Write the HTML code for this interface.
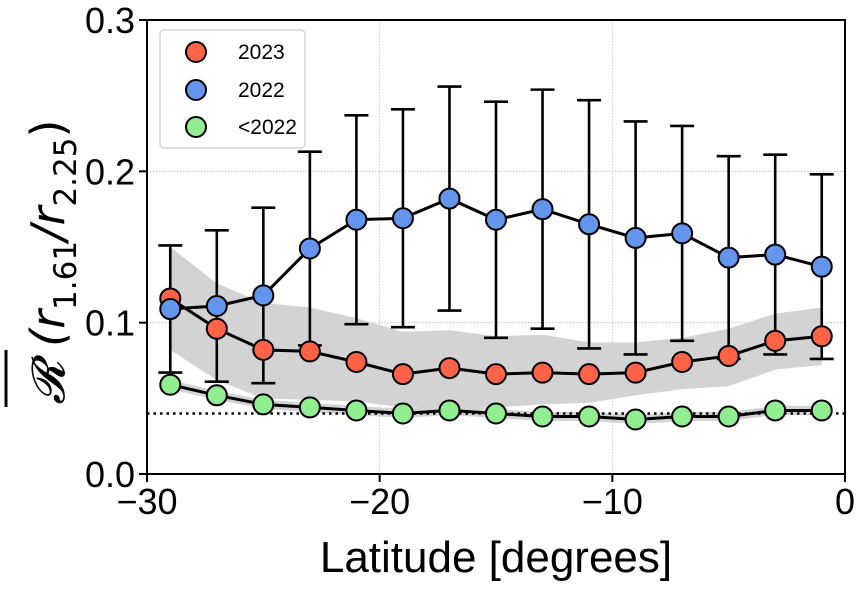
<!DOCTYPE html>
<html><head><meta charset="utf-8"><style>
body{margin:0;background:#fff}
svg{display:block;font-family:"Liberation Sans",sans-serif}
</style></head><body>
<svg id="c" width="862" height="589"></svg>
<script>
const lats=[-29,-27,-25,-23,-21,-19,-17,-15,-13,-11,-9,-7,-5,-3,-1];
const blueVals=[0.109,0.111,0.118,0.149,0.168,0.169,0.182,0.168,0.175,0.165,0.156,0.159,0.143,0.145,0.137];
const blueErr=[0.042,0.050,0.058,0.064,0.069,0.072,0.074,0.078,0.079,0.082,0.077,0.071,0.067,0.066,0.061];
const redVals=[0.116,0.096,0.082,0.081,0.074,0.066,0.070,0.066,0.067,0.066,0.067,0.074,0.078,0.088,0.091];
const redBandHi=[0.150,0.126,0.113,0.110,0.103,0.094,0.095,0.091,0.092,0.087,0.087,0.090,0.096,0.106,0.110];
const redBandLo=[0.082,0.062,0.050,0.049,0.048,0.044,0.043,0.044,0.046,0.047,0.052,0.056,0.058,0.069,0.072];
const greenVals=[0.059,0.052,0.046,0.044,0.042,0.040,0.042,0.040,0.038,0.038,0.036,0.038,0.038,0.042,0.042];
const greenBand=0.003;
const refLine=0.040;
const xTicks=[-30,-20,-10,0];
const xTickLabels=["\u221230","\u221220","\u221210","0"];
const yTicks=[0,0.1,0.2,0.3];
const yTickLabels=["0.0","0.1","0.2","0.3"];

const X0=147,X1=845,Y0=474,Y1=20;
const xs=v=>X0+(v+30)/30*(X1-X0);
const ys=v=>Y0-v/0.3*(Y0-Y1);
const svg=document.getElementById('c');
const NS='http://www.w3.org/2000/svg';
function mk(t,a,p){const e=document.createElementNS(NS,t);for(const k in a)e.setAttribute(k,a[k]);(p||svg).appendChild(e);return e;}

xTicks.forEach(t=>{if(t>-30&&t<0){const g=mk('line',{x1:xs(t),x2:xs(t),y1:Y1,y2:Y0,stroke:'#bbb','stroke-width':0.8,'stroke-dasharray':'1.5,1.5'});}});
yTicks.forEach(t=>{if(t>0&&t<0.3){const g=mk('line',{x1:X0,x2:X1,y1:ys(t),y2:ys(t),stroke:'#bbb','stroke-width':0.8,'stroke-dasharray':'1.5,1.5'});}});

function band(hi,lo,name){let d='';lats.forEach((l,i)=>{d+=(i?'L':'M')+xs(l)+','+ys(hi[i]);});for(let i=lats.length-1;i>=0;i--)d+='L'+xs(lats[i])+','+ys(lo[i]);const p=mk('path',{d:d+'Z',fill:'#d3d3d3'});}
band(redBandHi,redBandLo,'red-uncertainty-band');
band(greenVals.map(v=>v+greenBand),greenVals.map(v=>v-greenBand),'green-uncertainty-band');

const rl=mk('line',{x1:X0,x2:X1,y1:ys(refLine),y2:ys(refLine),stroke:'#000','stroke-width':2.5,'stroke-dasharray':'2.5,4'});


lats.forEach((l,i)=>{const x=xs(l),a=ys(blueVals[i]+blueErr[i]),b=ys(blueVals[i]-blueErr[i]);
const g=mk('g',{stroke:'#000','stroke-width':2.6});

mk('line',{x1:x,x2:x,y1:a,y2:b},g);mk('line',{x1:x-12,x2:x+12,y1:a,y2:a},g);mk('line',{x1:x-12,x2:x+12,y1:b,y2:b},g);});

function series(vals,color,name){const d=lats.map((l,i)=>(i?'L':'M')+xs(l)+','+ys(vals[i])).join('');
const p=mk('path',{d:d,fill:'none',stroke:'#000','stroke-width':3});
lats.forEach((l,i)=>{const c=mk('circle',{cx:xs(l),cy:ys(vals[i]),r:10,fill:color,stroke:'#000','stroke-width':2});});}
series(greenVals,'#90ee90','series-pre2022');
series(redVals,'#ff6347','series-2023');
series(blueVals,'#6495ed','series-2022');

const ax=mk('rect',{x:X0,y:Y1,width:X1-X0,height:Y0-Y1,fill:'none',stroke:'#000','stroke-width':2});

xTicks.forEach((t,i)=>{mk('line',{x1:xs(t),x2:xs(t),y1:Y0,y2:Y0+8,stroke:'#000','stroke-width':2});
const tx=mk('text',{x:xs(t),y:Y0+40,'font-size':36,'text-anchor':'middle'});tx.textContent=xTickLabels[i];
});
yTicks.forEach((t,i)=>{mk('line',{x1:X0-8,x2:X0,y1:ys(t),y2:ys(t),stroke:'#000','stroke-width':2});
const tx=mk('text',{x:X0-12,y:ys(t)+13,'font-size':36,'text-anchor':'end'});tx.textContent=yTickLabels[i];
});
</script>
<svg style="position:absolute;left:0;top:0" width="862" height="589">
<text x="496" y="572" font-size="44" text-anchor="middle" font-family="Liberation Sans,sans-serif">Latitude [degrees]</text>
<g transform="translate(52,262) rotate(-90)">
<line x1="-145" x2="-88" y1="-46" y2="-46" stroke="#000" stroke-width="3"/>
<text x="0" y="12" font-size="46" text-anchor="middle" font-family="DejaVu Sans,sans-serif" font-style="italic">𝓡 (r<tspan font-size="31" dy="12" font-style="normal">1.61</tspan><tspan dy="-12">/r</tspan><tspan font-size="31" dy="12" font-style="normal">2.25</tspan><tspan dy="-12" font-style="normal">)</tspan></text>
</g>
<g font-family="Liberation Sans,sans-serif" font-size="21">
<rect x="160" y="30" width="145" height="118" rx="4" fill="#fff" stroke="#ccc" stroke-width="1.2"/>
<g><circle cx="196" cy="52" r="10" fill="#ff6347" stroke="#000" stroke-width="2"/><text x="238" y="59">2023</text></g>
<g><circle cx="196" cy="90" r="10" fill="#6495ed" stroke="#000" stroke-width="2"/><text x="238" y="97">2022</text></g>
<g><circle cx="196" cy="127" r="10" fill="#90ee90" stroke="#000" stroke-width="2"/><text x="238" y="134">&lt;2022</text></g>
</g>
</svg>
</body></html>
